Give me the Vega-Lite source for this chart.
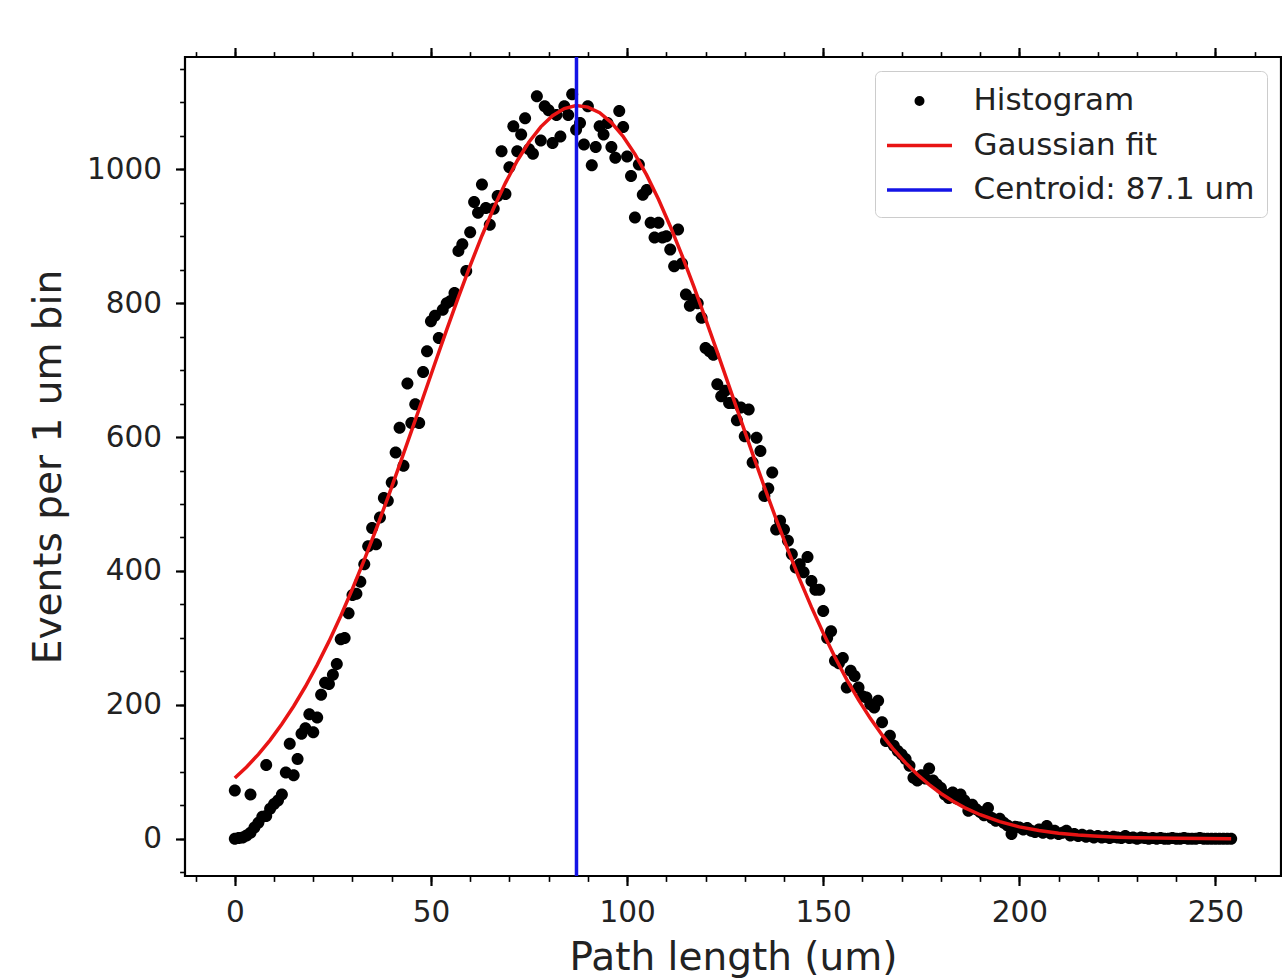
{
  "$schema": "https://vega.github.io/schema/vega-lite/v6.json",
  "width": 1096,
  "height": 819,
  "autosize": {"type": "none"},
  "padding": {"left": 185, "top": 57, "right": 1, "bottom": 104},
  "background": "white",
  "config": {
    "view": {"stroke": "black", "strokeWidth": 2.2},
    "font": "DejaVu Sans",
    "axis": {
      "domain": false,
      "grid": false,
      "tickColor": "black",
      "labelColor": "#222222",
      "titleColor": "#222222",
      "labelFont": "DejaVu Sans",
      "titleFont": "DejaVu Sans",
      "titleFontWeight": "normal",
      "labelFontSize": 29.5,
      "titleFontSize": 39,
      "labelBound": false,
      "labelFlush": false
    }
  },
  "datasets": {
    "hist": [
      {"x":0,"count":72},{"x":0,"count":0},{"x":1,"count":1},{"x":2,"count":2},{"x":3,"count":5},{"x":4,"count":66},{"x":4,"count":9},{"x":5,"count":17},{"x":6,"count":24},{"x":7,"count":33},{"x":8,"count":110},{"x":8,"count":34},{"x":9,"count":45},{"x":10,"count":52},{"x":11,"count":57},{"x":12,"count":66},{"x":13,"count":99},{"x":14,"count":142},{"x":15,"count":95},{"x":16,"count":119},{"x":17,"count":157},{"x":18,"count":165},{"x":19,"count":186},{"x":20,"count":159},{"x":21,"count":181},{"x":22,"count":215},{"x":23,"count":233},{"x":24,"count":231},{"x":25,"count":245},{"x":26,"count":261},{"x":27,"count":298},{"x":28,"count":300},{"x":29,"count":337},{"x":30,"count":364},{"x":31,"count":366},{"x":32,"count":384},{"x":33,"count":410},{"x":34,"count":437},{"x":35,"count":464},{"x":36,"count":440},{"x":37,"count":480},{"x":38,"count":509},{"x":39,"count":505},{"x":40,"count":532},{"x":41,"count":577},{"x":42,"count":614},{"x":43,"count":557},{"x":44,"count":680},{"x":45,"count":621},{"x":46,"count":649},{"x":47,"count":621},{"x":48,"count":697},{"x":49,"count":728},{"x":50,"count":773},{"x":51,"count":781},{"x":52,"count":748},{"x":53,"count":790},{"x":54,"count":800},{"x":55,"count":803},{"x":56,"count":815},{"x":57,"count":878},{"x":58,"count":888},{"x":59,"count":848},{"x":60,"count":906},{"x":61,"count":951},{"x":62,"count":935},{"x":63,"count":977},{"x":64,"count":942},{"x":65,"count":917},{"x":66,"count":941},{"x":67,"count":960},{"x":68,"count":1027},{"x":69,"count":963},{"x":70,"count":1003},{"x":71,"count":1064},{"x":72,"count":1027},{"x":73,"count":1052},{"x":74,"count":1076},{"x":75,"count":1030},{"x":76,"count":1023},{"x":77,"count":1109},{"x":78,"count":1043},{"x":79,"count":1094},{"x":80,"count":1088},{"x":81,"count":1039},{"x":82,"count":1081},{"x":83,"count":1049},{"x":84,"count":1094},{"x":85,"count":1081},{"x":86,"count":1112},{"x":87,"count":1059},{"x":88,"count":1069},{"x":89,"count":1037},{"x":90,"count":1094},{"x":91,"count":1006},{"x":92,"count":1033},{"x":93,"count":1064},{"x":94,"count":1052},{"x":95,"count":1069},{"x":96,"count":1033},{"x":97,"count":1017},{"x":98,"count":1087},{"x":99,"count":1063},{"x":100,"count":1019},{"x":101,"count":990},{"x":102,"count":928},{"x":103,"count":1007},{"x":104,"count":962},{"x":105,"count":969},{"x":106,"count":920},{"x":107,"count":898},{"x":108,"count":920},{"x":109,"count":898},{"x":110,"count":900},{"x":111,"count":880},{"x":112,"count":855},{"x":113,"count":910},{"x":114,"count":859},{"x":115,"count":813},{"x":116,"count":796},{"x":117,"count":805},{"x":118,"count":800},{"x":119,"count":778},{"x":120,"count":733},{"x":121,"count":728},{"x":122,"count":723},{"x":123,"count":679},{"x":124,"count":661},{"x":125,"count":669},{"x":126,"count":651},{"x":127,"count":651},{"x":128,"count":625},{"x":129,"count":644},{"x":130,"count":601},{"x":131,"count":641},{"x":132,"count":562},{"x":133,"count":599},{"x":134,"count":579},{"x":135,"count":512},{"x":136,"count":523},{"x":137,"count":547},{"x":138,"count":462},{"x":139,"count":475},{"x":140,"count":462},{"x":141,"count":445},{"x":142,"count":425},{"x":143,"count":405},{"x":144,"count":410},{"x":145,"count":398},{"x":146,"count":421},{"x":147,"count":385},{"x":148,"count":372},{"x":149,"count":372},{"x":150,"count":340},{"x":151,"count":300},{"x":152,"count":310},{"x":153,"count":266},{"x":154,"count":262},{"x":155,"count":270},{"x":156,"count":226},{"x":157,"count":251},{"x":158,"count":243},{"x":159,"count":226},{"x":160,"count":213},{"x":161,"count":211},{"x":162,"count":201},{"x":163,"count":196},{"x":164,"count":206},{"x":165,"count":174},{"x":166,"count":146},{"x":167,"count":154},{"x":168,"count":139},{"x":169,"count":131},{"x":170,"count":126},{"x":171,"count":119},{"x":172,"count":109},{"x":173,"count":91},{"x":174,"count":87},{"x":175,"count":95},{"x":176,"count":90},{"x":177,"count":105},{"x":178,"count":87},{"x":179,"count":81},{"x":180,"count":76},{"x":181,"count":66},{"x":182,"count":61},{"x":183,"count":69},{"x":184,"count":60},{"x":185,"count":66},{"x":186,"count":57},{"x":187,"count":42},{"x":188,"count":51},{"x":189,"count":44},{"x":190,"count":40},{"x":191,"count":35},{"x":192,"count":46},{"x":193,"count":31},{"x":194,"count":27},{"x":195,"count":30},{"x":196,"count":24},{"x":197,"count":20},{"x":198,"count":7},{"x":199,"count":18},{"x":200,"count":17},{"x":201,"count":14},{"x":202,"count":16},{"x":203,"count":12},{"x":204,"count":10},{"x":205,"count":14},{"x":206,"count":9},{"x":207,"count":19},{"x":208,"count":8},{"x":209,"count":12},{"x":210,"count":7},{"x":211,"count":9},{"x":212,"count":12},{"x":213,"count":5},{"x":214,"count":7},{"x":215,"count":4},{"x":216,"count":6},{"x":217,"count":3},{"x":218,"count":5},{"x":219,"count":2},{"x":220,"count":4},{"x":221,"count":2},{"x":222,"count":3},{"x":223,"count":1},{"x":224,"count":3},{"x":225,"count":2},{"x":226,"count":1},{"x":227,"count":4},{"x":228,"count":1},{"x":229,"count":2},{"x":230,"count":0},{"x":231,"count":2},{"x":232,"count":1},{"x":233,"count":0},{"x":234,"count":1},{"x":235,"count":0},{"x":236,"count":1},{"x":237,"count":0},{"x":238,"count":0},{"x":239,"count":1},{"x":240,"count":0},{"x":241,"count":0},{"x":242,"count":1},{"x":243,"count":0},{"x":244,"count":0},{"x":245,"count":0},{"x":246,"count":1},{"x":247,"count":0},{"x":248,"count":0},{"x":249,"count":0},{"x":250,"count":0},{"x":251,"count":0},{"x":252,"count":0},{"x":253,"count":0},{"x":254,"count":0}
    ],
    "fit": [
      {"x":0,"fit":90.7},{"x":3,"fit":107.2},{"x":6,"fit":126.1},{"x":9,"fit":147.4},{"x":12,"fit":171.3},{"x":15,"fit":197.9},{"x":18,"fit":227.4},{"x":21,"fit":259.7},{"x":24,"fit":294.8},{"x":27,"fit":332.8},{"x":30,"fit":373.4},{"x":33,"fit":416.5},{"x":36,"fit":461.9},{"x":39,"fit":509.3},{"x":42,"fit":558.3},{"x":45,"fit":608.4},{"x":48,"fit":659.0},{"x":51,"fit":709.8},{"x":54,"fit":760.0},{"x":57,"fit":809.0},{"x":60,"fit":856.1},{"x":63,"fit":900.7},{"x":66,"fit":942.1},{"x":69,"fit":979.6},{"x":72,"fit":1012.7},{"x":75,"fit":1040.7},{"x":78,"fit":1063.3},{"x":81,"fit":1080.0},{"x":84,"fit":1090.6},{"x":87,"fit":1095.0},{"x":90,"fit":1092.8},{"x":93,"fit":1084.3},{"x":96,"fit":1069.6},{"x":99,"fit":1048.9},{"x":102,"fit":1022.6},{"x":105,"fit":991.1},{"x":108,"fit":955.0},{"x":111,"fit":914.9},{"x":114,"fit":871.3},{"x":117,"fit":824.9},{"x":120,"fit":776.5},{"x":123,"fit":726.7},{"x":126,"fit":676.0},{"x":129,"fit":625.2},{"x":132,"fit":574.8},{"x":135,"fit":525.4},{"x":138,"fit":477.5},{"x":141,"fit":431.4},{"x":144,"fit":387.5},{"x":147,"fit":346.0},{"x":150,"fit":307.2},{"x":153,"fit":271.1},{"x":156,"fit":237.8},{"x":159,"fit":207.5},{"x":162,"fit":179.9},{"x":165,"fit":155.1},{"x":168,"fit":132.9},{"x":171,"fit":113.3},{"x":174,"fit":95.9},{"x":177,"fit":80.8},{"x":180,"fit":67.6},{"x":183,"fit":56.3},{"x":186,"fit":46.6},{"x":190,"fit":35.9},{"x":195,"fit":25.5},{"x":200,"fit":17.8},{"x":205,"fit":12.3},{"x":210,"fit":8.3},{"x":215,"fit":5.5},{"x":220,"fit":3.6},{"x":225,"fit":2.3},{"x":230,"fit":1.5},{"x":240,"fit":0.6},{"x":254,"fit":0.1}
    ],
    "centroid": [{"centroid": 87.1}]
  },
  "layer": [
    {
      "data": {"name": "hist"},
      "mark": {"type": "point", "filled": true, "size": 3600, "opacity": 1},
      "encoding": {
        "x": {
          "field": "x", "type": "quantitative",
          "scale": {"domain": [-12.7, 266.7], "nice": false, "zero": false},
          "axis": {"orient": "bottom", "values": [0, 50, 100, 150, 200, 250], "tickSize": 9.5, "tickWidth": 2.2, "labelPadding": 13, "title": "Path length (um)", "titlePadding": 11}
        },
        "y": {
          "field": "count", "type": "quantitative",
          "scale": {"domain": [-55.6, 1167.6], "nice": false, "zero": false},
          "axis": {"orient": "left", "values": [0, 200, 400, 600, 800, 1000], "format": "d", "tickSize": 9.5, "tickWidth": 2.2, "labelPadding": 14, "title": "Events per 1 um bin", "titlePadding": 18}
        },
        "color": {
          "datum": "Histogram",
          "scale": {"domain": ["Histogram", "Gaussian fit", "Centroid: 87.1 um"], "range": ["black", "#e81414", "#1414e6"]},
          "legend": {
            "title": null,
            "orient": "top-right",
            "offset": 14,
            "labelFontSize": 31,
            "labelFont": "DejaVu Sans",
            "labelColor": "#222222",
            "labelLimit": 600,
            "symbolSize": 1056,
            "symbolStrokeWidth": 3.5,
            "symbolOffset": 14.5,
            "labelOffset": 36,
            "rowPadding": 11.5,
            "padding": 12,
            "fillColor": "rgba(255,255,255,0.85)",
            "strokeColor": "#cccccc",
            "cornerRadius": 6
          }
        },
        "shape": {
          "datum": "Histogram",
          "scale": {"domain": ["Histogram", "Gaussian fit", "Centroid: 87.1 um"], "range": ["M0.2,0A0.2,0.2,0,1,1,-0.2,0A0.2,0.2,0,1,1,0.2,0Z", "M-2,0L2,0", "M-2,0L2,0"]},
          "legend": {
            "title": null,
            "orient": "top-right",
            "offset": 14,
            "labelFontSize": 31,
            "labelFont": "DejaVu Sans",
            "labelColor": "#222222",
            "labelLimit": 600,
            "symbolSize": 1056,
            "symbolStrokeWidth": 3.5,
            "symbolOffset": 14.5,
            "labelOffset": 36,
            "rowPadding": 11.5,
            "padding": 12,
            "fillColor": "rgba(255,255,255,0.85)",
            "strokeColor": "#cccccc",
            "cornerRadius": 6
          }
        }
      }
    },
    {
      "data": {"name": "fit"},
      "mark": {"type": "line", "strokeWidth": 3.5},
      "encoding": {
        "x": {"field": "x", "type": "quantitative", "axis": {"orient": "bottom", "values": [-10,0,10,20,30,40,50,60,70,80,90,100,110,120,130,140,150,160,170,180,190,200,210,220,230,240,250,260], "tickSize": 5.4, "tickWidth": 1.6, "labels": false, "title": null}},
        "y": {"field": "fit", "type": "quantitative", "axis": {"orient": "left", "values": [-50,0,50,100,150,200,250,300,350,400,450,500,550,600,650,700,750,800,850,900,950,1000,1050,1100,1150], "tickSize": 5.4, "tickWidth": 1.6, "labels": false, "title": null}},
        "color": {"datum": "Gaussian fit"}
      }
    },
    {
      "data": {"name": "hist"},
      "mark": {"type": "point", "opacity": 0},
      "encoding": {
        "x": {"field": "x", "type": "quantitative", "axis": {"orient": "top", "values": [0, 50, 100, 150, 200, 250], "tickSize": 9.5, "tickWidth": 2.2, "labels": false, "title": null}},
        "y": {"field": "count", "type": "quantitative", "axis": null}
      }
    },
    {
      "data": {"name": "hist"},
      "mark": {"type": "point", "opacity": 0},
      "encoding": {
        "x": {"field": "x", "type": "quantitative", "axis": {"orient": "top", "values": [-10,0,10,20,30,40,50,60,70,80,90,100,110,120,130,140,150,160,170,180,190,200,210,220,230,240,250,260], "tickSize": 5.4, "tickWidth": 1.6, "labels": false, "title": null}},
        "y": {"field": "count", "type": "quantitative", "axis": null}
      }
    },
    {
      "data": {"name": "centroid"},
      "mark": {"type": "rule", "strokeWidth": 3.5},
      "encoding": {
        "x": {"field": "centroid", "type": "quantitative", "axis": null},
        "color": {"datum": "Centroid: 87.1 um"}
      }
    }
  ],
  "resolve": {"axis": {"x": "independent", "y": "independent"}}
}
